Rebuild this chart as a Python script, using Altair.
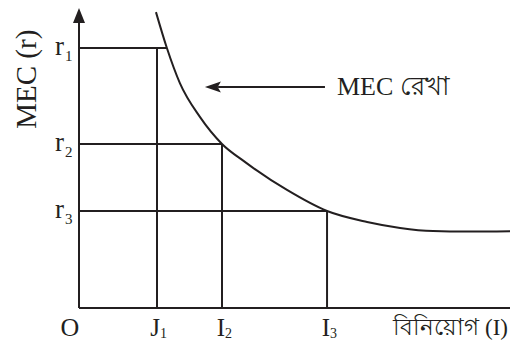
import altair as alt
import pandas as pd

# ---- data (conceptual units) ----
curve_x = [2.96, 3.38, 3.88, 4.65, 5.5, 6.38, 8.0, 9.54, 11.08, 12.35, 13.62, 14.92, 16.85]
curve_y = [11.38, 10.0, 8.65, 7.35, 6.31, 5.62, 4.54, 3.73, 3.31, 3.08, 2.96, 2.94, 2.96]

r_names = ["r", "r", "r"]
r_subs = ["1", "2", "3"]
r_vals = [10.0, 6.31, 3.73]
r_curve_x = [3.38, 5.5, 9.54]

i_names = ["J", "I", "I"]
i_subs = ["1", "2", "3"]
i_vals = [3.0, 5.5, 9.54]

x_title = "বিনিয়োগ (I)"
y_title = "MEC (r)"
curve_label = "MEC রেখা"
origin_label = "O"

X_MIN, X_MAX = -2.7308, 16.5769
Y_MIN, Y_MAX = -1.3077, 11.5385
arrow_y = 8.5
arrow_tip_x = 5.15
arrow_tail_x = 9.46
label_x = 9.92
ytitle_x, ytitle_y = -2.0, 8.8
xtitle_x = 16.5

INK = "#231f20"
SERIF = "Liberation Serif"

xs = alt.Scale(domain=[X_MIN, X_MAX], nice=False, zero=False)
ys = alt.Scale(domain=[Y_MIN, Y_MAX], nice=False, zero=False)


def X(f):
    return alt.X(f, type="quantitative", scale=xs, axis=None)


def Y(f):
    return alt.Y(f, type="quantitative", scale=ys, axis=None)


# axes
axes_df = pd.DataFrame({
    "x": [0, 0], "x2": [0, X_MAX], "y": [0, 0], "y2": [11.1, 0]
})
axes = alt.Chart(axes_df).mark_rule(color=INK, strokeWidth=2).encode(
    x=X("x"), x2="x2", y=Y("y"), y2="y2")

top_arrow = alt.Chart(pd.DataFrame({"x": [0], "y": [11.25]})).mark_point(
    shape="M0,-1L0.8,1L-0.8,1Z", size=225, filled=True, fill=INK, stroke=None, opacity=1
).encode(x=X("x"), y=Y("y"))

# guide lines
hdf = pd.DataFrame({"x": [0] * 3, "x2": r_curve_x, "y": r_vals})
hlines = alt.Chart(hdf).mark_rule(color=INK, strokeWidth=2).encode(
    x=X("x"), x2="x2", y=Y("y"))
vdf = pd.DataFrame({"x": i_vals, "y": [0] * 3, "y2": r_vals})
vlines = alt.Chart(vdf).mark_rule(color=INK, strokeWidth=2).encode(
    x=X("x"), y=Y("y"), y2="y2")

# MEC curve
cdf = pd.DataFrame({"x": curve_x, "y": curve_y})
curve = alt.Chart(cdf).mark_line(color=INK, strokeWidth=2, interpolate="monotone", clip=True).encode(
    x=X("x"), y=Y("y"))

# pointer arrow
adf = pd.DataFrame({"x": [arrow_tip_x + 0.2], "x2": [arrow_tail_x], "y": [arrow_y]})
arrow_line = alt.Chart(adf).mark_rule(color=INK, strokeWidth=2).encode(
    x=X("x"), x2="x2", y=Y("y"))
arrow_head = alt.Chart(pd.DataFrame({"x": [arrow_tip_x], "y": [arrow_y]})).mark_point(
    shape="M-1,0L1,-0.7L0.6,0L1,0.7Z", size=256, filled=True, fill=INK, stroke=None, opacity=1
).encode(x=X("x"), y=Y("y"))

# labels
rdf = pd.DataFrame({"t": r_names, "s": r_subs, "y": r_vals, "x": [0] * 3})
r_main = alt.Chart(rdf).mark_text(font=SERIF, fontSize=27, color=INK, align="right",
                                  baseline="alphabetic", dx=-15, dy=7).encode(
    x=X("x"), y=Y("y"), text="t")
r_sub = alt.Chart(rdf).mark_text(font=SERIF, fontSize=15, color=INK, align="left",
                                 baseline="alphabetic", dx=-14, dy=13).encode(
    x=X("x"), y=Y("y"), text="s")

idf = pd.DataFrame({"t": i_names, "s": i_subs, "x": i_vals, "y": [0] * 3})
i_main = alt.Chart(idf).mark_text(font=SERIF, fontSize=25, color=INK, align="right",
                                  baseline="alphabetic", dx=3, dy=28).encode(
    x=X("x"), y=Y("y"), text="t")
i_sub = alt.Chart(idf).mark_text(font=SERIF, fontSize=14, color=INK, align="left",
                                 baseline="alphabetic", dx=3, dy=30).encode(
    x=X("x"), y=Y("y"), text="s")

odf = pd.DataFrame({"t": [origin_label], "x": [0], "y": [0]})
o_lab = alt.Chart(odf).mark_text(font=SERIF, fontSize=26, color=INK, align="center",
                                 baseline="alphabetic", dx=-9, dy=28).encode(
    x=X("x"), y=Y("y"), text="t")

xt = alt.Chart(pd.DataFrame({"t": [x_title], "x": [xtitle_x], "y": [0]})).mark_text(
    font=SERIF, fontSize=23, color=INK, align="right", baseline="alphabetic", dy=27
).encode(x=X("x"), y=Y("y"), text="t")

yt = alt.Chart(pd.DataFrame({"t": [y_title], "x": [ytitle_x], "y": [ytitle_y]})).mark_text(
    font=SERIF, fontSize=29, color=INK, align="center", baseline="middle", angle=270
).encode(x=X("x"), y=Y("y"), text="t")

cl = alt.Chart(pd.DataFrame({"t": [curve_label], "x": [label_x], "y": [arrow_y]})).mark_text(
    font=SERIF, fontSize=26, color=INK, align="left", baseline="alphabetic", dy=8
).encode(x=X("x"), y=Y("y"), text="t")

chart = alt.layer(
    axes, top_arrow, hlines, vlines, curve, arrow_line, arrow_head,
    r_main, r_sub, i_main, i_sub, o_lab, xt, yt, cl
).properties(
    width=502, height=334, padding=0, autosize=alt.AutoSizeParams(type="none"),
    background="white"
).configure_view(stroke=None)

chart.save("out.html", embed_options={"renderer": "svg", "actions": False})
